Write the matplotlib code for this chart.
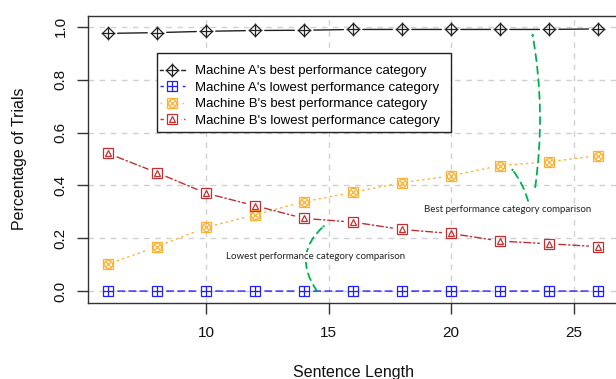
import matplotlib
matplotlib.use("Agg")
import matplotlib.pyplot as plt
from matplotlib.lines import Line2D
from matplotlib.legend_handler import HandlerTuple
from matplotlib.patches import FancyArrowPatch, Rectangle

# ---- data ----
sentence_length = [6, 8, 10, 12, 14, 16, 18, 20, 22, 24, 26]
a_best = [0.975, 0.978, 0.983, 0.986, 0.987, 0.990, 0.990, 0.990, 0.990, 0.990, 0.992]
a_lowest = [0.0, 0.0, 0.0, 0.0, 0.0, 0.0, 0.0, 0.0, 0.0, 0.0, 0.0]
b_best = [0.102, 0.168, 0.241, 0.289, 0.338, 0.374, 0.410, 0.436, 0.475, 0.489, 0.513]
b_lowest = [0.521, 0.448, 0.370, 0.323, 0.275, 0.261, 0.233, 0.218, 0.189, 0.179, 0.168]
series_labels = ["Machine A's best performance category",
                 "Machine A's lowest performance category",
                 "Machine B's best performance category",
                 "Machine B's lowest performance category"]
x_ticks = [10, 15, 20, 25]
y_ticks = [0.0, 0.2, 0.4, 0.6, 0.8, 1.0]
x_label = "Sentence Length"
y_label = "Percentage of Trials"
note_best = "Best performance category comparison"
note_low = "Lowest performance category comparison"

plt.rcParams['font.family'] = ['Liberation Sans', 'DejaVu Sans']

W, H = 616, 379
fig = plt.figure(figsize=(W / 100, H / 100), dpi=100)
ax = fig.add_axes([88.3 / W, 1 - 302.7 / H, (617.8 - 88.3) / W, (302.7 - 15.7) / H])
ax.set_xlim(5.196, 26.8)
ax.set_ylim(-0.044, 1.042)

# grid
for xv in x_ticks:
    ax.axvline(xv, color='#d0d0d0', lw=1.0, ls=(0, (4, 4)), zorder=0)
for yv in y_ticks:
    ax.axhline(yv, color='#d0d0d0', lw=1.0, ls=(0, (4, 4)), zorder=0)

series = [
    (a_best, '#222222', '-', [dict(marker='D', ms=6.5), dict(marker='+', ms=9.5)]),
    (a_lowest, '#2020ff', (0, (5, 3)), [dict(marker='s', ms=7), dict(marker='+', ms=7)]),
    (b_best, '#ffb030', (0, (1, 3)), [dict(marker='s', ms=7), dict(marker='o', ms=6), dict(marker='x', ms=5)]),
    (b_lowest, '#c03030', (0, (5, 2, 1, 2)), [dict(marker='s', ms=7), dict(marker='^', ms=5)]),
]

handles = []
for vals, col, ls, marks in series:
    # line segments with gaps around markers (type = "b")
    for i in range(len(sentence_length) - 1):
        seg = FancyArrowPatch((sentence_length[i], vals[i]), (sentence_length[i + 1], vals[i + 1]),
                              arrowstyle='-', shrinkA=7, shrinkB=7, color=col, lw=1.0,
                              linestyle=ls, zorder=2)
        ax.add_patch(seg)
    parts = [Line2D([], [], color=col, lw=1.0, ls=ls),
             Line2D([], [], ls='none', marker='s', ms=11, mfc='white', mec='white')]
    for m in marks:
        ln, = ax.plot(sentence_length, vals, ls='none', mfc='none', mec=col, mew=0.9,
                      zorder=3, **m)
        parts.append(ln)
    handles.append(tuple(parts))

# legend frame (R style, square box)
frame = Rectangle((156.7 / W, 1 - 132.3 / H), (450.7 - 156.7) / W, (132.3 - 53.3) / H,
                  transform=fig.transFigure, facecolor='white', edgecolor='#222222',
                  lw=1.0, zorder=4.5)
ax.add_patch(frame)
frame.set_clip_on(False)

leg = ax.legend(handles, series_labels, handler_map={tuple: HandlerTuple(ndivide=1)},
                loc='upper left', bbox_to_anchor=(159.5 / W, 1 - 65.0 / H),
                bbox_transform=fig.transFigure, fontsize=9.5, frameon=False,
                borderpad=0, labelspacing=0.33,
                handlelength=1.9, handletextpad=0.8, borderaxespad=0, numpoints=1)
leg.set_zorder(5)

# axes styling
for s in ['left', 'bottom', 'top', 'right']:
    ax.spines[s].set_color('#333333')
    ax.spines[s].set_linewidth(1.0)
ax.set_xticks(x_ticks)
ax.set_yticks(y_ticks)
ax.set_yticklabels([f"{v:.1f}" for v in y_ticks], rotation=90, va='center')
ax.tick_params(axis='both', direction='out', length=8, width=1.0, color='#333333',
               labelsize=11, labelcolor='#111111')
ax.tick_params(axis='x', pad=9)
ax.tick_params(axis='y', pad=7)
ax.set_xlabel(x_label, fontsize=11.5, color='#111111')
ax.xaxis.set_label_coords(0.5, -(372 - 302.7) / (302.7 - 15.7))
ax.set_ylabel(y_label, fontsize=11.5, color='#111111')
ax.yaxis.set_label_coords(-(88.3 - 20) / (617.8 - 88.3), 0.5)
ax.xaxis.label.set_va('center')
ax.yaxis.label.set_va('center')

# annotations
green = '#00b050'
note_font = dict(family=['Lato', 'DejaVu Sans'], fontsize=7, color='#222222',
                 bbox=dict(facecolor='white', edgecolor='none', pad=0.5), zorder=6)
ax.text(18.90, 0.310, note_best, ha='left', va='center', **note_font)
ax.text(10.82, 0.130, note_low, ha='left', va='center', **note_font)

arrows = [
    ((23.43, 0.393), (23.31, 0.976), 0.08),
    ((23.14, 0.341), (22.45, 0.465), 0.1),
    ((14.53, 0.0), (14.86, 0.250), -0.45),
]
for p0, p1, rad in arrows:
    ar = FancyArrowPatch(p0, p1, connectionstyle=f"arc3,rad={rad}",
                         arrowstyle='->,head_length=0.25,head_width=0.15',
                         color=green, lw=1.3, linestyle=(0, (4, 3)), zorder=4,
                         shrinkA=0, shrinkB=0)
    ax.add_patch(ar)

fig.savefig("out.png", dpi=100)
